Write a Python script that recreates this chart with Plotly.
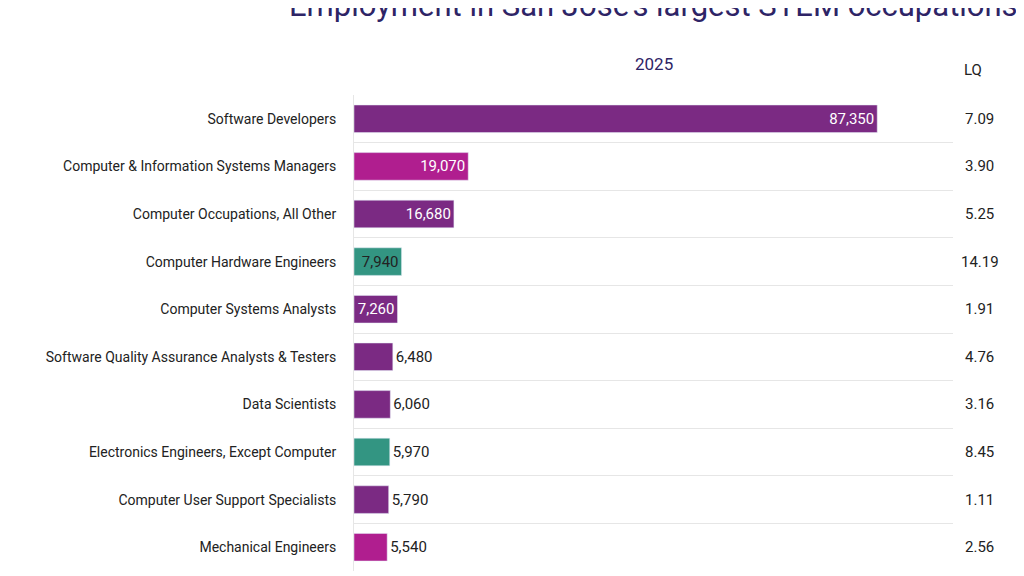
import plotly.graph_objects as go

occupations = ['Software Developers', 'Computer & Information Systems Managers',
               'Computer Occupations, All Other', 'Computer Hardware Engineers',
               'Computer Systems Analysts', 'Software Quality Assurance Analysts & Testers',
               'Data Scientists', 'Electronics Engineers, Except Computer',
               'Computer User Support Specialists', 'Mechanical Engineers']
employment = [87350, 19070, 16680, 7940, 7260, 6480, 6060, 5970, 5790, 5540]
lq = [7.09, 3.90, 5.25, 14.19, 1.91, 4.76, 3.16, 8.45, 1.11, 2.56]

PURPLE, MAGENTA, TEAL = '#7B2A83', '#B01E8F', '#339582'
colors = [PURPLE, MAGENTA, PURPLE, TEAL, PURPLE, PURPLE, PURPLE, TEAL, PURPLE, MAGENTA]
positions = ['inside'] * 5 + ['outside'] * 5
text_colors = ['white', 'white', 'white', '#222', 'white'] + ['#222'] * 5

fig = go.Figure(go.Bar(
    x=employment, y=occupations, orientation='h',
    marker_color=colors, width=0.58,
    text=[f'{v:,}' for v in employment], textposition=positions,
    insidetextanchor='end', cliponaxis=False,
    textfont=dict(size=15, color=text_colors, family='Roboto'),
    outsidetextfont=dict(size=15, color='#222', family='Roboto'),
))

for occ, v in zip(occupations, lq):
    fig.add_annotation(x=1.045, xref='paper', y=occ, yref='y', text=f'{v:.2f}',
                       showarrow=False, xanchor='center',
                       font=dict(size=15, color='#222', family='Roboto'))
fig.add_annotation(x=1.052, xref='paper', y=1.03, yref='paper', text='LQ',
                   showarrow=False, yanchor='bottom',
                   font=dict(size=15, color='#222', family='Roboto'))
fig.add_annotation(x=0.5, xref='paper', y=1.0, yref='paper', xanchor='center', yanchor='top',
                   text='Employment in San Jose\u2019s largest STEM occupations',
                   showarrow=False, yshift=0,
                   font=dict(size=31, color='#2E2466', family='Roboto'))
fig.add_annotation(x=0.5, xref='paper', y=0.925, yref='paper', xanchor='center', yanchor='top',
                   text='2025', showarrow=False,
                   font=dict(size=17, color='#2E2466', family='Roboto'))
for a in fig.layout.annotations[-2:]:
    a.update(xref='paper', yref='paper')
fig.layout.annotations[-2].update(x=0.5, y=1.145, yanchor='bottom')
fig.layout.annotations[-1].update(x=0.5, y=1.04, yanchor='bottom')

fig.update_layout(
    width=1024, height=576,
    plot_bgcolor='white', paper_bgcolor='white',
    margin=dict(l=346, r=79, t=87, b=13),
    showlegend=False,
    xaxis=dict(range=[0, 100000], visible=False),
    yaxis=dict(autorange='reversed', tickson='boundaries', showgrid=True,
               gridcolor='#E6E6E6', ticks='', ticklabelstandoff=14, automargin=False,
               tickfont=dict(size=14, color='#222', family='Roboto'),
               showline=True, linecolor='#E6E6E6'),
)

fig.write_html('out.html')
